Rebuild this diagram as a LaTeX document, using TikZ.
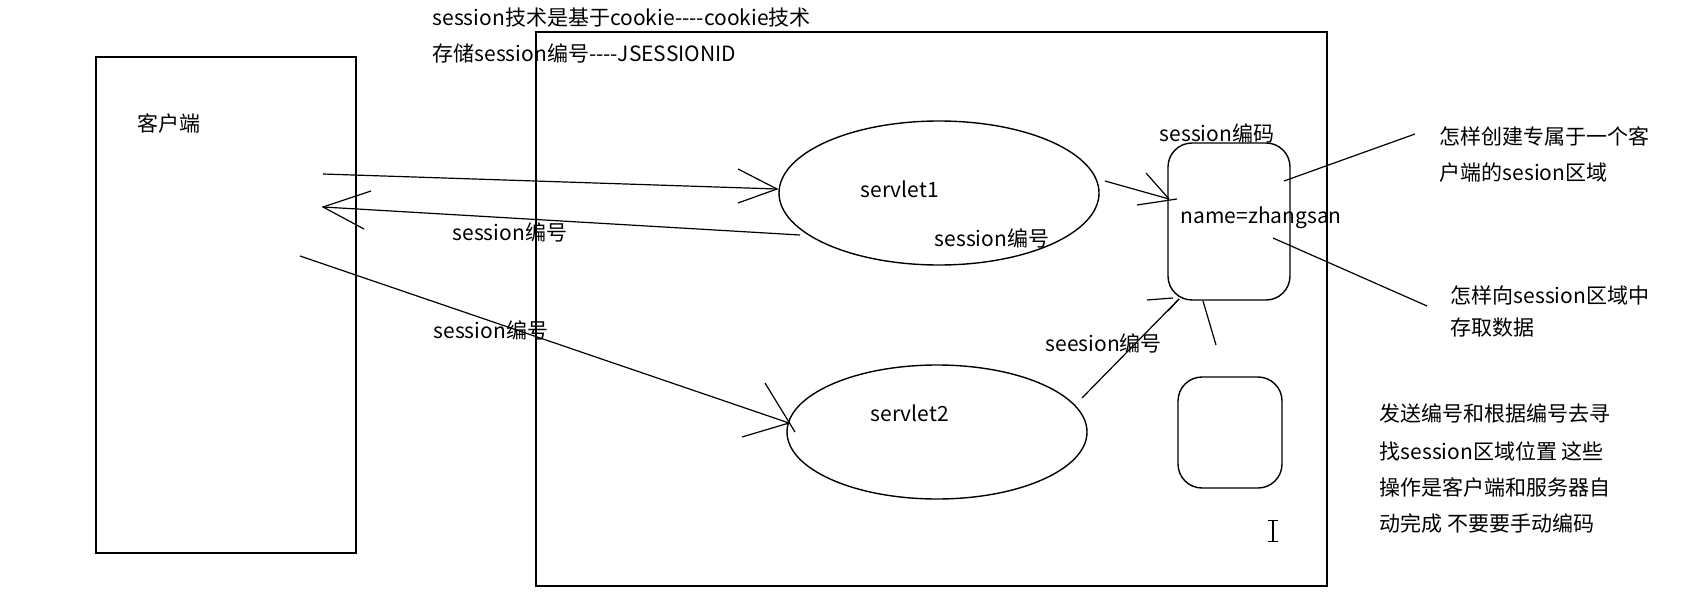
\documentclass[tikz,border=0pt]{standalone}
\usepackage{fontspec}
\setmainfont{Noto Sans CJK SC}[Ligatures=TeXOff]
\usetikzlibrary{shapes.geometric}
\begin{document}
\begin{tikzpicture}[x=0.5pt,y=-0.5pt,line width=0.7pt,
  txt/.style={anchor=west,inner sep=0pt,font=\fontsize{10.5pt}{12pt}\selectfont},
  boxnode/.style={draw,inner sep=0pt},
  ell/.style={draw,ellipse,inner sep=0pt},
  rbox/.style={draw,rounded corners=12pt,inner sep=0pt},
  conn/.style={line width=0.6pt},
  barb/.style={line width=0.6pt}]
\useasboundingbox (0,0) rectangle (1691,615);
\fill[white] (0,0) rectangle (1691,615);
% frames
\node[boxnode,minimum width=130pt,minimum height=248pt] (client) at (226,305) {};
\node[boxnode,minimum width=395.5pt,minimum height=277pt] (server) at (931.5,309) {};
% ellipses
\node[ell,minimum width=160pt,minimum height=72pt] (s1) at (939,193) {};
\node[ell,minimum width=150pt,minimum height=67pt] (s2) at (937,432) {};
% rounded boxes
\node[rbox,minimum width=61pt,minimum height=78.5pt] (b1) at (1229,221.5) {};
\node[rbox,minimum width=52pt,minimum height=55.5pt] (b2) at (1230,432.5) {};
% texts
\node[txt] (t1) at (432,18) {session技术是基于cookie----cookie技术};
\node[txt] (t2) at (432,53) {存储session编号----JSESSIONID};
\node[txt] (kh) at (137,123) {客户端};
\node[txt] (sv1) at (860,189) {servlet1};
\node[txt] (sv2) at (870,413) {servlet2};
\node[txt] (l1) at (452,232) {session编号};
\node[txt] (l2) at (934,238) {session编号};
\node[txt] (l3) at (433,330) {session编号};
\node[txt] (l4) at (1045,343) {seesion编号};
\node[txt] (sm) at (1159,133) {session编码};
\node[txt] (nm) at (1180,218) {name=zhangsan};
\node[txt] (q1a) at (1439,136) {怎样创建专属于一个客};
\node[txt] (q1b) at (1439,173) {户端的sesion区域};
\node[txt] (q2a) at (1450,295) {怎样向session区域中};
\node[txt] (q2b) at (1450,328) {存取数据};
\node[txt] (n1) at (1379,413) {发送编号和根据编号去寻};
\node[txt] (n2) at (1379,451) {找session区域位置 这些};
\node[txt] (n3) at (1379,487) {操作是客户端和服务器自};
\node[txt] (n4) at (1379,523) {动完成 不要要手动编码};
% connector end points
\coordinate (a1s) at (323,174);
\coordinate (a1e) at (777,189);
\coordinate (a2s) at (800,235);
\coordinate (a2e) at (323,207);
\coordinate (a3s) at (300,256);
\coordinate (a3e) at (789,423);
\coordinate (a4s) at (1105,181);
\coordinate (a4e) at (1169,199);
\coordinate (a5s) at (1082,398);
\coordinate (a5e) at (1179,299);
\coordinate (c1s) at (1284,181);
\coordinate (c1e) at (1415,134);
\coordinate (c2s) at (1273,238);
\coordinate (c2e) at (1427,306);
\coordinate (c3s) at (1203,301);
\coordinate (c3e) at (1216,345);
% connectors
\draw[conn] (a1s) -- (a1e);
\draw[barb] (738,169) -- (a1e) -- (738,203);
\draw[conn] (a2s) -- (a2e);
\draw[barb] (371,191) -- (a2e) -- (364,229);
\draw[conn] (a3s) -- (a3e);
\draw[barb] (765,383) -- (795,432);
\draw[barb] (742,437) -- (a3e);
\draw[conn] (a4s) -- (a4e);
\draw[barb] (1146,173) -- (a4e);
\draw[barb] (1137,205) -- (1177,199);
\draw[conn] (a5s) -- (a5e);
\draw[barb] (1147,300) -- (1173,298);
\draw[barb] (1168,311) -- (a5e);
\draw[conn] (c3s) -- (c3e);
\draw[conn] (c1s) -- (c1e);
\draw[conn] (c2s) -- (c2e);
% text cursor
\coordinate (cur1) at (1273,520);
\coordinate (cur2) at (1273,541);
\draw[line width=0.6pt] (cur1) -- (cur2);
\draw[line width=0.5pt] (1268,520) -- (1278,520) (1268,541) -- (1278,541);
\end{tikzpicture}
\end{document}
